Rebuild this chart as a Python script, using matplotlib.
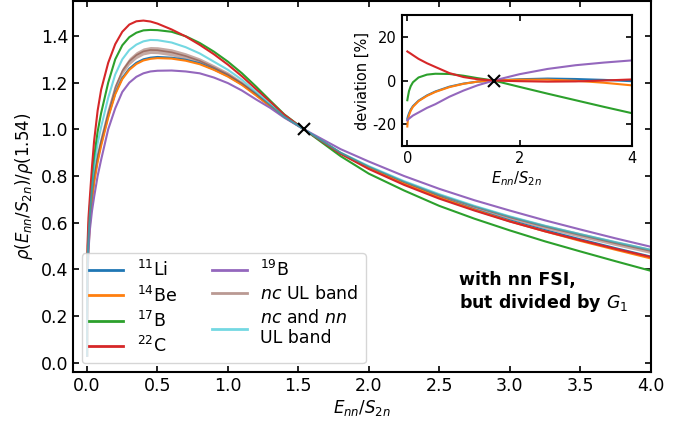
import numpy as np
import matplotlib.pyplot as plt
from matplotlib.lines import Line2D

# Values
# normalisation point
E_norm = 1.54
rho_norm = 1.0

# main panel: rho(E/S2n)/rho(1.54)
E = [0, 0.0005, 0.003, 0.01, 0.02, 0.035, 0.05, 0.075, 0.1, 0.15, 0.2, 0.25,
     0.3, 0.35, 0.4, 0.45, 0.5, 0.6, 0.7, 0.8, 0.9, 1.0, 1.1, 1.2, 1.3, 1.4,
     1.54, 1.8, 2.0, 2.25, 2.5, 2.75, 3.0, 3.25, 3.5, 3.75, 4.0]

li11 = [0.03, 0.19, 0.39, 0.51, 0.61, 0.71, 0.785, 0.872, 0.94, 1.057, 1.155, 1.22,
        1.26, 1.285, 1.3, 1.307, 1.31, 1.307, 1.298, 1.283, 1.258, 1.229, 1.193, 1.148, 1.1, 1.054,
        1.0, 0.898, 0.835, 0.768, 0.71, 0.657, 0.61, 0.568, 0.529, 0.491, 0.455]
be14 = [0.03, 0.17, 0.37, 0.49, 0.59, 0.69, 0.77, 0.86, 0.93, 1.05, 1.15, 1.215,
        1.255, 1.28, 1.295, 1.302, 1.305, 1.303, 1.294, 1.279, 1.255, 1.226, 1.19, 1.145, 1.098, 1.053,
        1.0, 0.897, 0.834, 0.767, 0.708, 0.655, 0.606, 0.563, 0.522, 0.484, 0.447]
b17 = [0.03, 0.22, 0.45, 0.57, 0.67, 0.79, 0.88, 0.99, 1.07, 1.2, 1.3, 1.36,
       1.395, 1.414, 1.424, 1.426, 1.425, 1.418, 1.399, 1.37, 1.333, 1.29, 1.24, 1.183, 1.123, 1.064,
       1.0, 0.885, 0.81, 0.738, 0.672, 0.617, 0.567, 0.52, 0.477, 0.435, 0.394]
c22 = [0.03, 0.25, 0.5, 0.62, 0.71, 0.84, 0.95, 1.08, 1.17, 1.285, 1.365, 1.418,
       1.449, 1.463, 1.466, 1.462, 1.453, 1.428, 1.398, 1.362, 1.322, 1.277, 1.227, 1.172, 1.118, 1.062,
       1.0, 0.895, 0.83, 0.762, 0.703, 0.652, 0.605, 0.563, 0.525, 0.488, 0.453]
b19 = [0.03, 0.17, 0.36, 0.48, 0.57, 0.65, 0.71, 0.8, 0.87, 1.0, 1.09, 1.16,
       1.2, 1.225, 1.24, 1.248, 1.251, 1.252, 1.248, 1.24, 1.222, 1.198, 1.166, 1.128, 1.092, 1.05,
       1.0, 0.915, 0.862, 0.8, 0.745, 0.696, 0.652, 0.61, 0.571, 0.533, 0.497]
nc_band = [0.03, 0.19, 0.4, 0.52, 0.62, 0.72, 0.8, 0.89, 0.955, 1.075, 1.18, 1.25,
           1.292, 1.318, 1.334, 1.34, 1.339, 1.33, 1.314, 1.293, 1.265, 1.235, 1.197, 1.152, 1.103, 1.053,
           1.0, 0.9, 0.84, 0.775, 0.718, 0.668, 0.623, 0.583, 0.547, 0.512, 0.479]
nc_band_err = [0.0, 0.003, 0.005, 0.006, 0.007, 0.008, 0.009, 0.01, 0.011, 0.012, 0.013, 0.014,
               0.015, 0.015, 0.015, 0.015, 0.015, 0.015, 0.014, 0.013, 0.012, 0.011, 0.009, 0.007, 0.005, 0.003,
               0.0, 0.003, 0.004, 0.005, 0.006, 0.007, 0.008, 0.009, 0.01, 0.01, 0.011]
ncnn_band = [0.03, 0.2, 0.42, 0.54, 0.64, 0.75, 0.84, 0.94, 1.01, 1.135, 1.235, 1.3,
             1.34, 1.363, 1.377, 1.383, 1.382, 1.372, 1.352, 1.325, 1.29, 1.255, 1.212, 1.16, 1.107, 1.054,
             1.0, 0.9, 0.842, 0.778, 0.722, 0.672, 0.627, 0.587, 0.551, 0.517, 0.484]

# inset: deviation in percent
E_dev = [0, 0.01, 0.03, 0.06, 0.1, 0.2, 0.35, 0.5, 0.75, 1.0, 1.25, 1.54, 2.0, 2.5, 3.0, 3.5, 4.0]
dev_li11 = [-17.5, -16.5, -15.0, -13.3, -11.7, -9.2, -6.8, -5.0, -2.8, -1.4, -0.5, 0, 0.6, 0.9, 0.7, 0.3, -0.3]
dev_be14 = [-21.0, -18.0, -15.8, -13.8, -12.0, -9.4, -7.0, -5.2, -3.0, -1.5, -0.5, 0, 0.4, 0.4, -0.1, -1.0, -2.2]
dev_b17 = [-9.0, -7.5, -4.8, -2.6, -0.8, 1.4, 2.7, 3.1, 3.0, 2.2, 1.1, 0, -2.9, -6.0, -9.0, -12.0, -14.9]
dev_c22 = [13.3, 13.1, 12.8, 12.3, 11.6, 9.9, 7.9, 6.2, 3.4, 1.6, 0.6, 0, -0.3, -0.5, -0.4, 0.0, 0.5]
dev_b19 = [-18.2, -17.9, -17.4, -16.8, -16.0, -14.6, -12.5, -10.8, -7.4, -4.6, -2.2, 0, 2.9, 5.3, 7.0, 8.2, 9.2]

plt.rcParams['font.size'] = 12.5
plt.rcParams['axes.unicode_minus'] = False
plt.rcParams['axes.linewidth'] = 1.5

fig = plt.figure(figsize=(6.95, 4.25), dpi=100)
ax = fig.add_axes([0.105, 0.1247, 0.831, 0.873])

ax.plot(E, li11, color='tab:blue', lw=1.5)
ax.plot(E, be14, color='tab:orange', lw=1.5)
ax.plot(E, b17, color='tab:green', lw=1.5)
ax.plot(E, c22, color='tab:red', lw=1.5)
ax.plot(E, b19, color='tab:purple', lw=1.5)

nc = np.array(nc_band)
err = np.array(nc_band_err)
ax.fill_between(E, nc - err, nc + err, color='tab:brown', alpha=0.5, lw=0)
ax.plot(E, nc, color='tab:brown', alpha=0.7, lw=1.2)
ax.plot(E, ncnn_band, color='tab:cyan', alpha=0.6, lw=1.5)
ax.plot(E_norm, rho_norm, 'kx', ms=9, mew=1.5)

handles = [
    Line2D([], [], color='tab:blue', lw=2),
    Line2D([], [], color='tab:orange', lw=2),
    Line2D([], [], color='tab:green', lw=2),
    Line2D([], [], color='tab:red', lw=2),
    Line2D([], [], color='tab:purple', lw=2),
    Line2D([], [], color='tab:brown', alpha=0.6, lw=2),
    Line2D([], [], color='tab:cyan', alpha=0.6, lw=2),
]
labels = [r'$^{11}$Li', r'$^{14}$Be', r'$^{17}$B', r'$^{22}$C', r'$^{19}$B',
          r'$nc$ UL band', '$nc$ and $nn$\nUL band']
ax.legend(handles, labels, ncol=2, loc='lower left', bbox_to_anchor=(0.015, 0.024),
          borderaxespad=0, fontsize=12.5, labelspacing=0.3, handlelength=2.0)

ax.text(2.64, 0.30, 'with nn FSI,\nbut divided by $G_1$', fontweight='bold',
        fontsize=12.5, ha='left', va='center')

ax.set_xlim(-0.1, 4.0)
ax.set_ylim(-0.04, 1.55)
ax.set_xticks(np.arange(0, 4.01, 0.5))
ax.set_yticks(np.arange(0, 1.41, 0.2))
ax.tick_params(direction='in', top=True, right=True, width=1.2, length=4)
ax.set_xlabel(r'$E_{nn}/S_{2n}$', fontsize=12, labelpad=2)
ax.set_ylabel(r'$\rho(E_{nn}/S_{2n})/\rho(1.54)$', fontsize=12)

# inset
axin = fig.add_axes([0.578, 0.656, 0.331, 0.309])
axin.plot(E_dev, dev_li11, color='tab:blue', lw=1.5)
axin.plot(E_dev, dev_be14, color='tab:orange', lw=1.5)
axin.plot(E_dev, dev_b17, color='tab:green', lw=1.5)
axin.plot(E_dev, dev_b19, color='tab:purple', lw=1.5)
axin.plot(E_dev, dev_c22, color='tab:red', lw=1.5)
axin.plot(E_norm, 0, 'kx', ms=8, mew=1.5)
axin.set_xlim(-0.1, 4.0)
axin.set_ylim(-30, 30)
axin.set_xticks([0, 2, 4])
axin.set_yticks([-20, 0, 20])
axin.tick_params(direction='in', top=True, right=True, width=1.2, length=4, labelsize=10.5)
axin.set_xlabel(r'$E_{nn}/S_{2n}$', fontsize=10.5, labelpad=2)
axin.set_ylabel('deviation [%]', fontsize=10.5, labelpad=2)

fig.savefig('out.png', dpi=100)
